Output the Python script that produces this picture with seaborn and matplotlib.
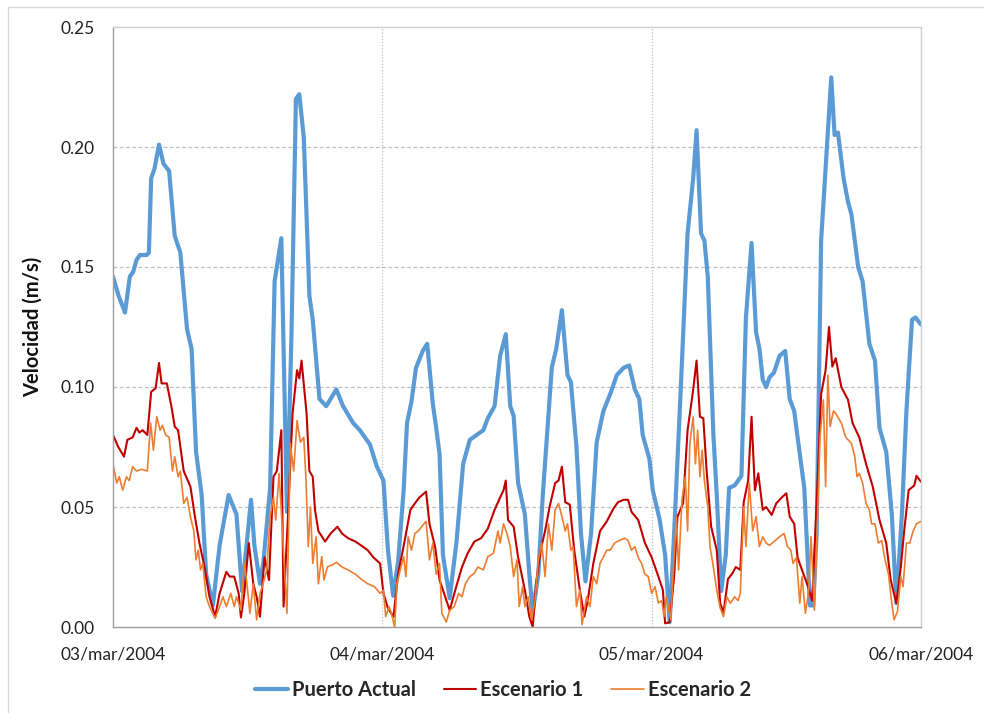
import numpy as np
import pandas as pd
import matplotlib
matplotlib.use("Agg")
import matplotlib.pyplot as plt
import seaborn as sns
from matplotlib.patches import Rectangle

# ---------------- data (hours since 03/mar/2004 00:00, velocity m/s) ----------------
series_names = ["Puerto Actual", "Escenario 1", "Escenario 2"]
tick_labels = ["03/mar/2004", "04/mar/2004", "05/mar/2004", "06/mar/2004"]
tick_hours = [0, 24, 48, 72]

puerto_h = [0, 0.5, 1.07, 1.5, 1.8, 2.1, 2.4, 3.0, 3.2, 3.4,
            3.7, 4.1, 4.5, 5.0, 5.5, 6.0, 6.6, 7.0, 7.4, 7.9,
            8.3, 8.9, 9.5, 10.3, 11.0, 11.5, 12.3, 12.6, 13.1, 13.4,
            14.0, 14.4, 15.0, 15.5, 15.9, 16.3, 16.6, 17.0, 17.5, 17.8,
            18.4, 19.0, 19.9, 20.5, 21.4, 22.0, 22.9, 23.5, 24.1, 24.5,
            24.96, 25.4, 25.9, 26.2, 26.6, 27.0, 27.6, 28.0, 28.5, 28.8,
            29.1, 29.4, 30.0, 30.6, 31.2, 31.8, 32.4, 33.0, 33.4, 34.0,
            34.5, 35.0, 35.4, 35.7, 36.1, 36.7, 37.1, 37.4, 37.9, 38.3,
            39.1, 39.5, 40.0, 40.5, 40.8, 41.3, 41.7, 42.1, 42.6, 43.1,
            43.7, 44.3, 44.9, 45.5, 46.0, 46.5, 46.9, 47.2, 47.8, 48.1,
            48.7, 49.2, 49.6, 50.0, 50.6, 51.2, 51.7, 52.0, 52.4, 52.7,
            53.0, 53.5, 53.8, 54.2, 54.6, 54.9, 55.4, 56.0, 56.4, 56.9,
            57.3, 57.6, 57.9, 58.2, 58.5, 58.9, 59.4, 59.9, 60.3, 60.7,
            61.2, 61.6, 62.1, 62.4, 62.7, 63.1, 63.6, 64.0, 64.3, 64.6,
            65.1, 65.5, 65.8, 66.4, 66.8, 67.4, 67.9, 68.3, 68.9, 69.4,
            69.8, 70.3, 70.7, 71.2, 71.5, 72.0]
puerto_v = [0.146, 0.138, 0.131, 0.146, 0.148, 0.153, 0.155, 0.155, 0.156, 0.187,
            0.191, 0.201, 0.193, 0.190, 0.163, 0.156, 0.124, 0.116, 0.073, 0.055,
            0.022, 0.009, 0.034, 0.055, 0.047, 0.015, 0.053, 0.034, 0.018, 0.027,
            0.058, 0.144, 0.162, 0.048, 0.121, 0.220, 0.222, 0.204, 0.138, 0.128,
            0.095, 0.092, 0.099, 0.092, 0.085, 0.082, 0.076, 0.067, 0.061, 0.032,
            0.013, 0.027, 0.057, 0.085, 0.094, 0.108, 0.115, 0.118, 0.093, 0.083,
            0.072, 0.030, 0.012, 0.035, 0.068, 0.078, 0.080, 0.082, 0.087, 0.092,
            0.113, 0.122, 0.092, 0.088, 0.060, 0.047, 0.022, 0.006, 0.022, 0.055,
            0.108, 0.116, 0.132, 0.105, 0.102, 0.075, 0.039, 0.019, 0.039, 0.077,
            0.090, 0.097, 0.105, 0.108, 0.109, 0.099, 0.095, 0.080, 0.070, 0.057,
            0.045, 0.030, 0.002, 0.039, 0.100, 0.164, 0.187, 0.207, 0.164, 0.161,
            0.146, 0.080, 0.055, 0.015, 0.030, 0.058, 0.059, 0.063, 0.129, 0.160,
            0.123, 0.116, 0.103, 0.100, 0.104, 0.106, 0.113, 0.115, 0.095, 0.090,
            0.072, 0.058, 0.009, 0.009, 0.039, 0.161, 0.199, 0.229, 0.205, 0.206,
            0.187, 0.177, 0.172, 0.150, 0.144, 0.118, 0.111, 0.083, 0.073, 0.047,
            0.010, 0.047, 0.090, 0.128, 0.129, 0.126]

esc1_h = [0, 0.47, 0.98, 1.28, 1.75, 2.1, 2.35, 2.64, 3.06, 3.4,
          3.8, 4.1, 4.33, 4.8, 5.2, 5.5, 5.8, 6.3, 6.9, 7.3,
          7.7, 8.2, 8.6, 9.1, 9.5, 10.1, 10.4, 10.8, 11.2, 11.4,
          11.7, 12.1, 12.5, 12.8, 13.1, 13.5, 13.9, 14.3, 14.6, 15.0,
          15.2, 15.6, 16.0, 16.4, 16.6, 16.8, 17.25, 17.5, 17.8, 18.0,
          18.3, 18.9, 19.4, 20.0, 20.4, 20.95, 21.6, 22.1, 22.7, 23.2,
          23.8, 24.1, 24.5, 25.0, 25.4, 25.95, 26.5, 26.9, 27.3, 27.9,
          28.2, 28.7, 29.1, 29.6, 30.0, 30.5, 31.1, 31.6, 32.2, 32.8,
          33.4, 34.0, 34.5, 34.8, 35.0, 35.2, 35.7, 36.1, 36.7, 37.1,
          37.4, 37.7, 38.1, 38.5, 38.9, 39.4, 39.7, 40.0, 40.3, 40.7,
          41.1, 41.6, 42.0, 42.3, 42.8, 43.4, 44.0, 44.6, 45.0, 45.5,
          45.9, 46.2, 46.8, 47.4, 48.0, 48.6, 49.0, 49.2, 49.6, 50.0,
          50.3, 50.8, 51.2, 51.5, 51.7, 52.0, 52.3, 52.6, 52.9, 53.3,
          53.8, 54.1, 54.4, 54.8, 55.2, 55.5, 55.9, 56.2, 56.6, 56.9,
          57.2, 57.5, 57.9, 58.2, 58.7, 59.1, 59.6, 60.0, 60.3, 60.7,
          61.0, 61.5, 62.0, 62.3, 62.7, 63.1, 63.5, 63.8, 64.1, 64.4,
          64.9, 65.5, 65.9, 66.5, 67.1, 67.7, 68.3, 68.9, 69.3, 69.8,
          70.2, 70.5, 70.9, 71.4, 71.6, 72.0]
esc1_v = [0.080, 0.075, 0.071, 0.078, 0.079, 0.083, 0.081, 0.082, 0.080, 0.098,
          0.0995, 0.110, 0.1015, 0.1015, 0.092, 0.0835, 0.082, 0.065, 0.0585, 0.046,
          0.035, 0.024, 0.0126, 0.0043, 0.014, 0.023, 0.021, 0.021, 0.014, 0.004,
          0.014, 0.035, 0.018, 0.0126, 0.0043, 0.029, 0.0196, 0.0626, 0.065, 0.082,
          0.0085, 0.047, 0.089, 0.107, 0.1036, 0.111, 0.089, 0.065, 0.0626, 0.0488,
          0.040, 0.0356, 0.039, 0.0418, 0.039, 0.037, 0.0356, 0.034, 0.032, 0.029,
          0.0265, 0.014, 0.0078, 0.0043, 0.022, 0.035, 0.0488, 0.0515, 0.054, 0.0564,
          0.043, 0.0335, 0.0196, 0.0126, 0.007, 0.0154, 0.025, 0.0307, 0.0356, 0.037,
          0.041, 0.0488, 0.054, 0.057, 0.061, 0.0446, 0.0418, 0.029, 0.0154, 0.0043,
          0.0, 0.018, 0.032, 0.040, 0.050, 0.060, 0.061, 0.0668, 0.052, 0.051,
          0.032, 0.0154, 0.0043, 0.011, 0.0265, 0.040, 0.044, 0.0494, 0.052, 0.053,
          0.053, 0.048, 0.0446, 0.035, 0.029, 0.021, 0.0154, 0.0015, 0.002, 0.021,
          0.046, 0.0515, 0.082, 0.092, 0.099, 0.111, 0.0876, 0.087, 0.065, 0.0418,
          0.032, 0.010, 0.006, 0.020, 0.0224, 0.025, 0.0238, 0.052, 0.061, 0.0876,
          0.057, 0.064, 0.0488, 0.050, 0.0467, 0.0515, 0.054, 0.0557, 0.046, 0.043,
          0.029, 0.0224, 0.016, 0.011, 0.0515, 0.097, 0.107, 0.125, 0.1085, 0.112,
          0.100, 0.0946, 0.085, 0.079, 0.068, 0.0585, 0.0446, 0.035, 0.0196, 0.0099,
          0.025, 0.040, 0.057, 0.059, 0.063, 0.0605]

esc2_h = [0, 0.33, 0.56, 0.86, 1.2, 1.45, 1.75, 2.1, 2.55, 3.06,
          3.35, 3.6, 3.9, 4.2, 4.4, 4.7, 5.0, 5.3, 5.5, 5.8,
          6.0, 6.3, 6.6, 6.9, 7.2, 7.4, 7.6, 7.8, 8.0, 8.3,
          8.6, 9.1, 9.5, 9.8, 10.1, 10.5, 10.8, 11.0, 11.4, 11.7,
          11.9, 12.2, 12.5, 12.8, 13.1, 13.3, 13.7, 14.0, 14.3, 14.5,
          14.8, 15.1, 15.5, 15.8, 16.1, 16.4, 16.7, 17.0, 17.2, 17.4,
          17.6, 17.8, 18.1, 18.3, 18.6, 18.8, 19.1, 19.6, 19.9, 20.4,
          20.95, 21.6, 22.1, 22.7, 23.3, 23.8, 24.1, 24.3, 24.6, 24.8,
          25.1, 25.3, 25.6, 25.9, 26.1, 26.3, 26.6, 26.9, 27.2, 27.5,
          27.9, 28.2, 28.5, 28.8, 29.1, 29.3, 29.7, 30.0, 30.4, 30.8,
          31.1, 31.4, 31.8, 32.2, 32.5, 33.0, 33.4, 33.9, 34.3, 34.5,
          34.8, 35.1, 35.4, 35.7, 36.0, 36.2, 36.5, 36.7, 37.0, 37.3,
          37.6, 37.9, 38.2, 38.5, 38.8, 39.1, 39.4, 39.7, 40.0, 40.3,
          40.5, 40.8, 41.0, 41.3, 41.6, 41.8, 42.2, 42.5, 42.8, 43.1,
          43.4, 43.7, 44.0, 44.3, 44.7, 45.1, 45.6, 45.9, 46.2, 46.5,
          46.8, 47.1, 47.4, 47.7, 48.0, 48.3, 48.6, 48.9, 49.1, 49.3,
          49.7, 49.9, 50.2, 50.4, 50.7, 51.0, 51.2, 51.4, 51.7, 51.9,
          52.1, 52.3, 52.5, 52.7, 53.0, 53.2, 53.5, 53.8, 54.1, 54.4,
          54.7, 55.0, 55.4, 55.7, 55.9, 56.2, 56.4, 56.7, 57.0, 57.3,
          57.6, 57.9, 58.2, 58.5, 59.0, 59.4, 59.8, 60.1, 60.4, 60.6,
          60.9, 61.2, 61.4, 61.7, 62.0, 62.2, 62.5, 62.8, 63.0, 63.3,
          63.5, 63.7, 63.9, 64.2, 64.4, 64.9, 65.3, 65.8, 66.1, 66.3,
          66.5, 66.8, 67.1, 67.4, 67.6, 67.9, 68.2, 68.5, 68.8, 69.1,
          69.4, 69.6, 69.9, 70.2, 70.4, 70.7, 71.0, 71.3, 71.6, 72.0]
esc2_v = [0.068, 0.060, 0.0626, 0.057, 0.0626, 0.061, 0.0668, 0.065, 0.0657, 0.065,
          0.085, 0.0737, 0.0876, 0.082, 0.084, 0.080, 0.079, 0.065, 0.071, 0.0626,
          0.065, 0.0515, 0.054, 0.046, 0.040, 0.028, 0.032, 0.0238, 0.0265, 0.0126,
          0.0085, 0.0036, 0.0085, 0.0126, 0.0085, 0.014, 0.0085, 0.0126, 0.007, 0.0265,
          0.0196, 0.0057, 0.018, 0.003, 0.014, 0.0168, 0.0238, 0.046, 0.054, 0.0446,
          0.064, 0.040, 0.0057, 0.0765, 0.065, 0.086, 0.077, 0.079, 0.061, 0.0335,
          0.050, 0.0265, 0.0376, 0.018, 0.0293, 0.0196, 0.025, 0.026, 0.027, 0.025,
          0.0238, 0.022, 0.020, 0.018, 0.0168, 0.014, 0.0154, 0.0043, 0.0085, 0.0057,
          0.0, 0.018, 0.0238, 0.0293, 0.021, 0.0376, 0.032, 0.039, 0.040, 0.0418,
          0.044, 0.028, 0.035, 0.022, 0.0265, 0.0057, 0.002, 0.007, 0.0085, 0.014,
          0.0126, 0.018, 0.021, 0.0224, 0.025, 0.0238, 0.0293, 0.0307, 0.040, 0.035,
          0.043, 0.039, 0.0335, 0.021, 0.028, 0.0085, 0.0168, 0.0085, 0.0126, 0.003,
          0.011, 0.028, 0.035, 0.021, 0.043, 0.032, 0.0488, 0.0515, 0.046, 0.040,
          0.043, 0.032, 0.0335, 0.0085, 0.0154, 0.001, 0.0126, 0.0085, 0.021, 0.018,
          0.0265, 0.0293, 0.032, 0.032, 0.035, 0.036, 0.037, 0.036, 0.032, 0.0335,
          0.029, 0.0265, 0.022, 0.021, 0.014, 0.0168, 0.010, 0.011, 0.0043, 0.0126,
          0.003, 0.021, 0.046, 0.0238, 0.053, 0.0626, 0.040, 0.0765, 0.0876, 0.068,
          0.082, 0.0626, 0.0737, 0.061, 0.050, 0.0335, 0.025, 0.0154, 0.008, 0.0043,
          0.0126, 0.0099, 0.0126, 0.011, 0.014, 0.050, 0.0335, 0.060, 0.040, 0.046,
          0.0335, 0.0376, 0.035, 0.034, 0.036, 0.0376, 0.039, 0.0335, 0.032, 0.0265,
          0.029, 0.0099, 0.021, 0.0057, 0.0154, 0.0376, 0.007, 0.0488, 0.079, 0.0946,
          0.0585, 0.105, 0.0835, 0.090, 0.089, 0.085, 0.079, 0.0765, 0.071, 0.0626,
          0.064, 0.060, 0.0515, 0.0488, 0.043, 0.043, 0.035, 0.036, 0.028, 0.022,
          0.0099, 0.003, 0.0064, 0.021, 0.0168, 0.035, 0.035, 0.040, 0.043, 0.044]

assert len(puerto_h) == len(puerto_v)
assert len(esc1_h) == len(esc1_v)
assert len(esc2_h) == len(esc2_v)

# ---------------- styling ----------------
colors = ["#5B9BD5", "#C00000", "#ED7D31"]
widths = [3.0, 1.5, 1.2]

sns.set_theme(style="white")
plt.rcParams["font.family"] = ["Lato", "DejaVu Sans"]

W, H = 984, 713
fig = plt.figure(figsize=(W / 100, H / 100), dpi=100)
ax = fig.add_axes([113 / W, 1 - 627 / H, (921 - 113) / W, (627 - 27) / H])

# outer chart border
fig.patches.append(Rectangle((8 / W, -0.1), 1.2, 1 - 7 / H + 0.1, transform=fig.transFigure,
                             fill=False, edgecolor="#D9D9D9", linewidth=1.0))

frames = []
for name, hh, vv in zip(series_names, [puerto_h, esc1_h, esc2_h], [puerto_v, esc1_v, esc2_v]):
    frames.append(pd.DataFrame({"hora": hh, "velocidad": vv, "serie": name}))
df = pd.concat(frames, ignore_index=True)

for name, c, lw in zip(series_names, colors, widths):
    sns.lineplot(data=df[df["serie"] == name], x="hora", y="velocidad", color=c,
                 linewidth=lw, estimator=None, sort=False, ax=ax, label=name)

ax.set_xlim(0, 72)
ax.set_ylim(0, 0.25)
ax.set_xticks(tick_hours)
ax.set_xticklabels(tick_labels)
ax.set_yticks([0, 0.05, 0.10, 0.15, 0.20, 0.25])
ax.set_yticklabels([f"{v:.2f}" for v in [0, 0.05, 0.10, 0.15, 0.20, 0.25]])
ax.tick_params(axis="both", length=0, labelsize=12.5, colors="#222222")
ax.tick_params(axis="x", pad=14)
ax.tick_params(axis="y", pad=13)
ax.set_xlabel("")
ax.set_ylabel("Velocidad (m/s)", fontsize=14.5, fontweight="bold", color="#111111", labelpad=13)

for yv in [0.05, 0.10, 0.15, 0.20]:
    ax.axhline(yv, color="#BFBFBF", linewidth=0.9, linestyle=(0, (3, 2)), zorder=0)
for xv in [24, 48]:
    ax.axvline(xv, color="#BFBFBF", linewidth=0.9, linestyle=(0, (1, 1.5)), zorder=0)

for s in ["top", "right"]:
    ax.spines[s].set_color("#D0D0D0")
    ax.spines[s].set_linewidth(1.0)
for s in ["left", "bottom"]:
    ax.spines[s].set_color("#9E9E9E")
    ax.spines[s].set_linewidth(1.0)

ax.get_legend().remove()
handles, labels = ax.get_legend_handles_labels()
leg = fig.legend(handles, labels, loc="center", bbox_to_anchor=(503 / W, 1 - 690 / H), ncol=3,
                 frameon=False, handlelength=1.6, handletextpad=0.2, columnspacing=1.4,
                 prop={"weight": "bold", "size": 14.5})

fig.savefig("out.png", dpi=100)
